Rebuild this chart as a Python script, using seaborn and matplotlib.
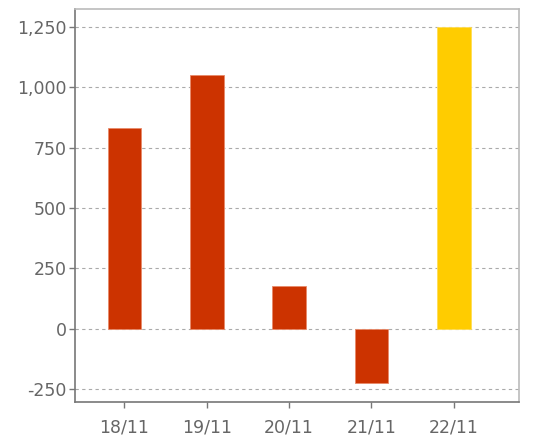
import matplotlib
matplotlib.use("Agg")
import matplotlib.pyplot as plt
import seaborn as sns
import pandas as pd
from matplotlib.ticker import FuncFormatter

dates = ["18/11", "19/11", "20/11", "21/11", "22/11"]
values = [830, 1052, 178, -224, 1250]
colors = ["#cc3300", "#cc3300", "#cc3300", "#cc3300", "#ffcc00"]

sns.set_style("white")
plt.rcParams['font.family'] = ['DejaVu Sans']
plt.rcParams['axes.unicode_minus'] = False

df = pd.DataFrame({"date": dates, "value": values})

fig = plt.figure(figsize=(5.36, 4.46), dpi=100)
ax = fig.add_axes([0.14, 0.099, 0.828, 0.881])
sns.barplot(data=df, x="date", y="value", hue="date", palette=colors,
            width=0.41, legend=False, ax=ax, saturation=1,
            edgecolor="#e88a6a", linewidth=0.6)
ax.patches[4].set_edgecolor("#ffdd55")

ax.set_xlim(-0.6, 4.79)
ax.set_ylim(-304, 1325)
ax.set_yticks([-250, 0, 250, 500, 750, 1000, 1250])
ax.yaxis.set_major_formatter(FuncFormatter(lambda v, p: f"{int(v):,}"))
ax.yaxis.grid(True, linestyle=(0, (3, 3)), color="#aaaaaa", linewidth=0.8)
ax.set_axisbelow(True)
ax.set_xlabel("")
ax.set_ylabel("")

for s in ["left", "bottom"]:
    ax.spines[s].set_color("#777777")
    ax.spines[s].set_linewidth(1.2)
for s in ["top", "right"]:
    ax.spines[s].set_color("#bbbbbb")
    ax.spines[s].set_linewidth(1.2)

ax.tick_params(axis="both", direction="out", length=4, width=1, color="#777777",
               labelcolor="#666666", labelsize=12.5, left=True, bottom=True)
ax.tick_params(axis="x", pad=8)
ax.tick_params(axis="y", pad=2)

fig.savefig("out.png", dpi=100)
